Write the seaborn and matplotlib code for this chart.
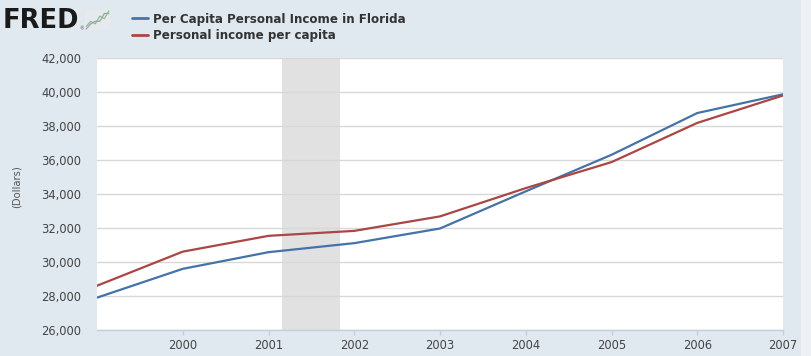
import numpy as np
import pandas as pd
import seaborn as sns
import matplotlib.pyplot as plt
import matplotlib.dates as mdates
from matplotlib.ticker import FuncFormatter, MultipleLocator
from matplotlib.patches import Rectangle

sns.set_theme(style="white")
plt.rcParams["font.family"] = ["DejaVu Sans"]

# ----------------------------
# data (annual)
# ----------------------------
years = ["1999", "2000", "2001", "2002", "2003", "2004", "2005", "2006", "2007"]
florida = [27900, 29590, 30570, 31100, 31960, 34140, 36290, 38740, 39840]
us_avg = [28600, 30600, 31530, 31820, 32670, 34330, 35860, 38160, 39770]
series_names = ["Per Capita Personal Income in Florida", "Personal income per capita"]
series_colors = ["#4572A7", "#AA4643"]
recession = ("2001-03-01", "2001-11-01")
tick_years = ["2000", "2001", "2002", "2003", "2004", "2005", "2006", "2007"]

# little logo chart (decorative)
logo_a = [1, 3, 2, 5, 4, 7]
logo_b = [0, 2, 3, 3, 6, 6]

dates = pd.to_datetime(years)
df = pd.concat([
    pd.DataFrame({"date": dates, "value": florida, "series": series_names[0]}),
    pd.DataFrame({"date": dates, "value": us_avg, "series": series_names[1]}),
])

W, H = 811, 356
bg = "#E1E9F0"
fig = plt.figure(figsize=(W / 100, H / 100), dpi=100, facecolor=bg)
fig.patches.append(Rectangle((801 / W, 0), 10 / W, 1, transform=fig.transFigure,
                             facecolor="#EDF1F5", edgecolor="none", zorder=0))

ax = fig.add_axes([97 / W, (H - 330) / H, (783 - 97) / W, (330 - 57.5) / H])
ax.set_facecolor("white")

# recession shading
ax.axvspan(pd.Timestamp(recession[0]), pd.Timestamp(recession[1]),
           color="#E1E1E1", linewidth=0, zorder=0)

sns.lineplot(data=df, x="date", y="value", hue="series",
             palette=dict(zip(series_names, series_colors)),
             linewidth=1.6, ax=ax, legend=False, zorder=3)

ax.set_xlim(dates[0], dates[-1])
ax.set_ylim(26000, 42000)
ax.yaxis.set_major_locator(MultipleLocator(2000))
ax.yaxis.set_major_formatter(FuncFormatter(lambda v, p: f"{int(v):,}"))
ax.set_xticks(pd.to_datetime(tick_years))
ax.xaxis.set_major_formatter(mdates.DateFormatter("%Y"))

ax.grid(axis="y", color="#D8D8D8", linewidth=1)
ax.set_axisbelow(True)
for s in ["top", "right", "left"]:
    ax.spines[s].set_visible(False)
ax.spines["bottom"].set_color("#C0D0E0")
ax.spines["bottom"].set_linewidth(1)

ax.tick_params(axis="y", length=0, pad=11.5, labelsize=8.3, labelcolor="#444444")
ax.tick_params(axis="x", length=3.6, width=1, color="#C0D0E0", pad=3,
               labelsize=8.3, labelcolor="#444444", bottom=True)
ax.set_xlabel("")
ax.set_ylabel("(Dollars)", fontsize=7.2, color="#555555")
ax.yaxis.set_label_coords(-0.110, 0.525)

# legend at the top
handles = [plt.Line2D([], [], color=c, linewidth=2) for c in series_colors]
fig.legend(handles, series_names, loc="upper left",
           bbox_to_anchor=(132 / W, 1 - 12.5 / H), frameon=False,
           handlelength=1.3, handletextpad=0.45, labelspacing=0.32,
           prop={"weight": "bold", "size": 8.6}, labelcolor="#333333",
           borderaxespad=0, borderpad=0)

# FRED logo
fig.text(3 / W, 1 - 27.5 / H, "FRED", fontsize=18.5, fontweight="bold",
         color="#1A1A1A", ha="left", va="baseline")
fig.text(79 / W, 1 - 30 / H, "®", fontsize=3.5, color="#555555",
         ha="left", va="baseline")
lax = fig.add_axes([85 / W, 1 - 30 / H, 25 / W, 20 / H])
lax.set_facecolor("#E6EAEC")
lax.plot(logo_a, color="#9DB88A", linewidth=0.9)
lax.plot(logo_b, color="#8FA6C0", linewidth=0.9)
lax.set_xticks([])
lax.set_yticks([])
for s in lax.spines.values():
    s.set_visible(False)

fig.savefig("out.png", dpi=100, facecolor=bg)
